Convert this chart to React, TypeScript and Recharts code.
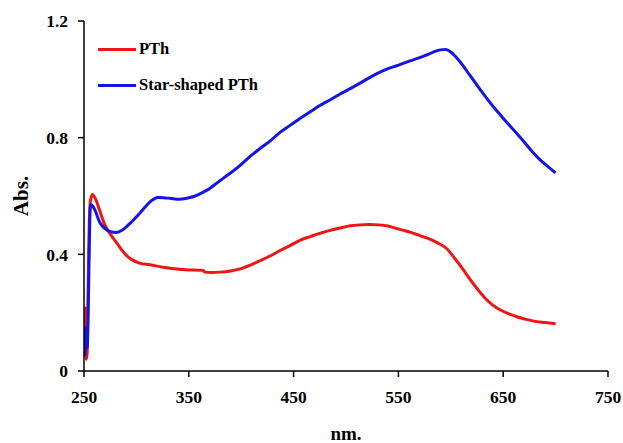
import { LineChart, Line, XAxis, YAxis } from 'recharts';

// Wavelength (nm) and absorbance
const pthNm = [251, 252, 253, 254, 255, 256, 258, 261, 265, 270, 275, 280, 285, 290, 295, 303, 313, 327, 341, 355, 364, 365, 372, 380, 390, 399, 408, 418, 428, 437, 447, 456, 466, 475, 485, 494, 504, 513, 522, 532, 540, 547, 554, 561, 570, 580, 587, 596, 604, 611, 618, 625, 634, 640, 647, 655, 663, 671, 679, 690, 700];
const pthAbs = [0.22, 0.04, 0.06, 0.3, 0.5, 0.58, 0.605, 0.59, 0.55, 0.5, 0.47, 0.445, 0.42, 0.398, 0.383, 0.37, 0.364, 0.355, 0.349, 0.346, 0.345, 0.339, 0.338, 0.339, 0.343, 0.35, 0.362, 0.378, 0.395, 0.413, 0.431, 0.448, 0.461, 0.472, 0.482, 0.49, 0.498, 0.501, 0.502, 0.501, 0.497, 0.49, 0.483, 0.476, 0.465, 0.452, 0.44, 0.42, 0.385, 0.352, 0.316, 0.283, 0.245, 0.226, 0.21, 0.197, 0.186, 0.178, 0.171, 0.166, 0.162];

const starNm = [251, 252, 253, 254, 255, 256, 257, 260, 265, 270, 275, 281, 285, 289, 295, 303, 309, 313, 317, 320, 326, 332, 341, 348, 356, 363, 370, 377, 384, 392, 399, 408, 418, 428, 437, 447, 456, 466, 475, 485, 494, 504, 513, 522, 532, 542, 552, 561, 571, 580, 585, 590, 595, 600, 606, 612, 618, 624, 630, 636, 642, 648, 655, 663, 671, 678, 685, 693, 700];
const starAbs = [0.05, 0.15, 0.08, 0.2, 0.42, 0.56, 0.57, 0.555, 0.51, 0.488, 0.478, 0.475, 0.48, 0.49, 0.51, 0.54, 0.565, 0.58, 0.59, 0.595, 0.594, 0.592, 0.589, 0.592, 0.6, 0.612, 0.626, 0.645, 0.664, 0.685, 0.705, 0.734, 0.763, 0.79, 0.818, 0.843, 0.866, 0.889, 0.91, 0.93, 0.949, 0.968, 0.986, 1.005, 1.024, 1.039, 1.051, 1.063, 1.075, 1.088, 1.096, 1.101, 1.102, 1.094, 1.072, 1.045, 1.015, 0.985, 0.955, 0.927, 0.9, 0.875, 0.846, 0.814, 0.781, 0.751, 0.725, 0.7, 0.679];

const xTicks = [250, 350, 450, 550, 650, 750];
const yTicks = [0, 0.4, 0.8, 1.2];

const seriesNames = ['PTh', 'Star-shaped PTh'];
const seriesColors = ['#f01414', '#1414e6'];

const pthData = pthNm.map((nm, i) => ({ nm, abs: pthAbs[i] }));
const starData = starNm.map((nm, i) => ({ nm, abs: starAbs[i] }));

const font = '"Liberation Serif", "Times New Roman", serif';
const tickStyle = { fontFamily: font, fontWeight: 'bold', fontSize: 17.5, fill: '#000' };

// legend sits inside the plot, top-left, like the original
function LegendBox() {
  return (
    <div style={{ position: 'absolute', left: 98, top: 31, fontFamily: font, fontWeight: 'bold', fontSize: 16.5, color: '#000' }}>
      {seriesNames.map((name, i) => (
        <div key={name} style={{ display: 'flex', alignItems: 'center', height: 36 }}>
          <span style={{ display: 'inline-block', width: 38, height: 3, background: seriesColors[i], marginRight: 3 }} />
          {name}
        </div>
      ))}
    </div>
  );
}

export default function App() {
  return (
    <div style={{ position: 'fixed', left: 0, top: 0, width: 623, height: 443, background: '#fff' }}>
      <LineChart width={623} height={443} margin={{ top: 21, right: 15, bottom: 0, left: 0 }}>
        <XAxis
          dataKey="nm"
          type="number"
          domain={[250, 750]}
          ticks={xTicks}
          allowDataOverflow
          height={72}
          stroke="#000"
          strokeWidth={1.5}
          tickSize={6}
          tickMargin={14}
          tick={tickStyle}
          label={{ value: 'nm.', position: 'insideBottom', offset: 3, style: { fontFamily: font, fontWeight: 'bold', fontSize: 19, fill: '#000' } }}
        />
        <YAxis
          type="number"
          domain={[0, 1.2]}
          ticks={yTicks}
          width={84}
          stroke="#000"
          strokeWidth={1.5}
          tickSize={6}
          tickMargin={10}
          tick={tickStyle}
          label={{ value: 'Abs.', angle: -90, position: 'insideLeft', offset: 21, style: { textAnchor: 'middle', fontFamily: font, fontWeight: 'bold', fontSize: 21, fill: '#000' } }}
        />
        <Line data={pthData} dataKey="abs" name={seriesNames[0]} type="monotone" stroke={seriesColors[0]} strokeWidth={3} dot={false} isAnimationActive={false} />
        <Line data={starData} dataKey="abs" name={seriesNames[1]} type="monotone" stroke={seriesColors[1]} strokeWidth={3} dot={false} isAnimationActive={false} />
      </LineChart>
      <LegendBox />
    </div>
  );
}
